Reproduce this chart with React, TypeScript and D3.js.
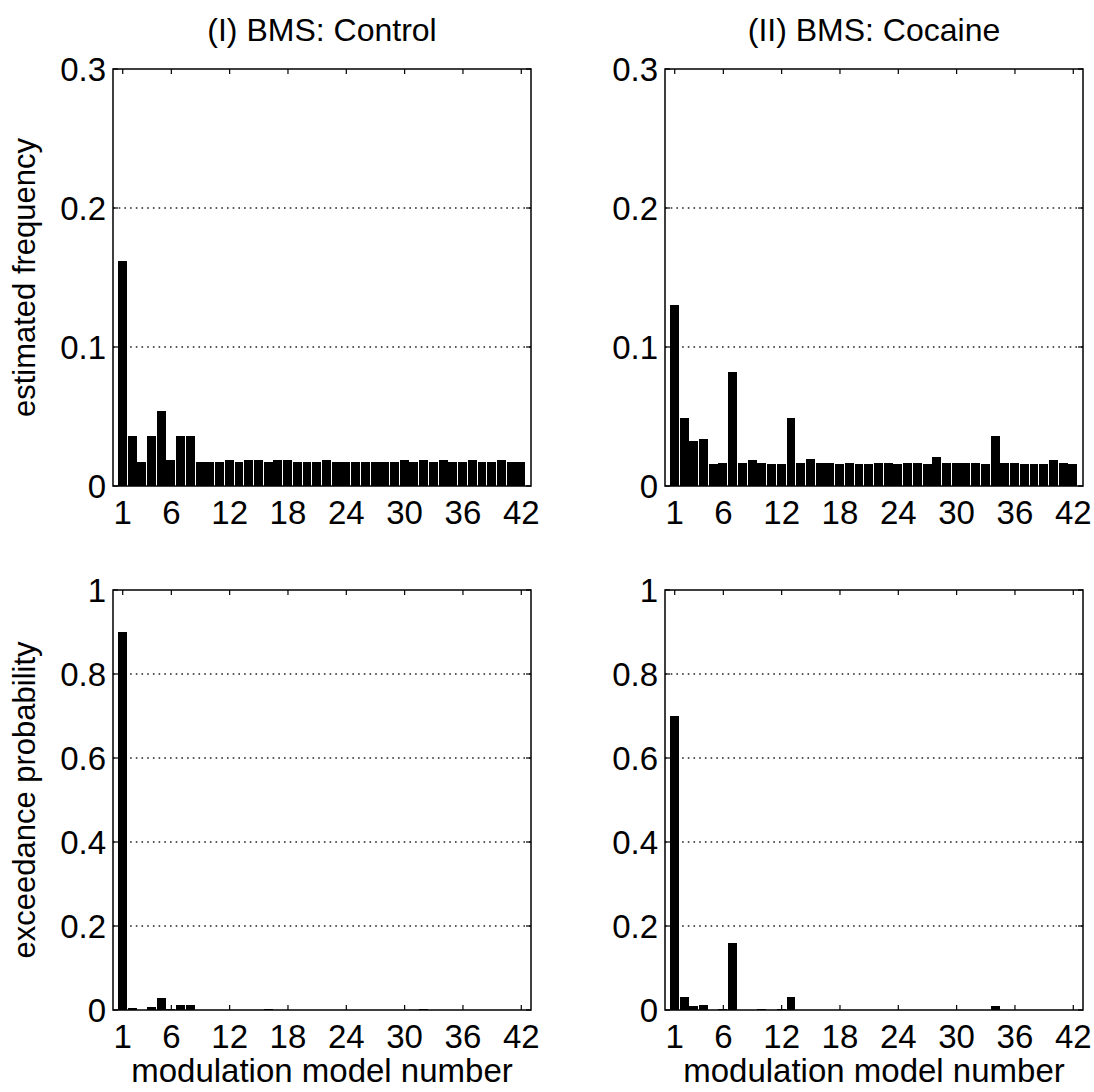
import React from 'react'
import * as d3 from 'd3'

// estimated model frequencies, models 1..42
const controlFreq = [
  0.162, 0.036, 0.0175, 0.036, 0.054, 0.019, 0.036, 0.036, 0.0175, 0.0175,
  0.0175, 0.0185, 0.0175, 0.0185, 0.0185, 0.0175, 0.0185, 0.0185, 0.0175, 0.0175,
  0.0175, 0.0185, 0.0175, 0.0175, 0.0175, 0.0175, 0.0175, 0.0175, 0.0175, 0.0185,
  0.0175, 0.0185, 0.0175, 0.0185, 0.0175, 0.0175, 0.0185, 0.0175, 0.0175, 0.0185,
  0.0175, 0.0175,
]
const cocaineFreq = [
  0.13, 0.0487, 0.0324, 0.0336, 0.0158, 0.0168, 0.0818, 0.0168, 0.0187, 0.0168,
  0.0158, 0.0158, 0.0487, 0.0168, 0.0197, 0.0168, 0.0168, 0.0158, 0.0168, 0.0158,
  0.0158, 0.0168, 0.0168, 0.0158, 0.0168, 0.0168, 0.0158, 0.0206, 0.0168, 0.0168,
  0.0168, 0.0168, 0.0158, 0.0362, 0.0168, 0.0168, 0.0158, 0.0158, 0.0158, 0.0187,
  0.0168, 0.0158,
]

// exceedance probabilities
const controlExc = [
  0.9, 0.004, 0.001, 0.006, 0.028, 0.002, 0.011, 0.011, 0.001, 0.001,
  0.001, 0.001, 0.001, 0.001, 0.001, 0.003, 0.001, 0.001, 0.001, 0.001,
  0.001, 0.001, 0.001, 0.001, 0.001, 0.001, 0.001, 0.001, 0.001, 0.001,
  0.001, 0.003, 0.001, 0.001, 0.001, 0.001, 0.001, 0.001, 0.001, 0.001,
  0.001, 0.001,
]
const cocaineExc = [
  0.7, 0.031, 0.009, 0.012, 0.001, 0.002, 0.159, 0.001, 0.001, 0.002,
  0.001, 0.002, 0.031, 0.001, 0.001, 0.001, 0.001, 0.001, 0.001, 0.001,
  0.001, 0.001, 0.001, 0.001, 0.001, 0.001, 0.001, 0.001, 0.001, 0.001,
  0.001, 0.001, 0.001, 0.01, 0.001, 0.001, 0.001, 0.001, 0.001, 0.001,
  0.001, 0.001,
]

const xTicks = [1, 6, 12, 18, 24, 30, 36, 42]
const freqTicks = [0, 0.1, 0.2, 0.3]
const excTicks = [0, 0.2, 0.4, 0.6, 0.8, 1]

const titles = ['(I) BMS: Control', '(II) BMS: Cocaine']
const FONT = '"Liberation Sans", Arial, sans-serif'

const W = 1094
const H = 1092
const cols = [[113, 531], [665, 1083]]
const rows = [[69, 486], [590, 1010]]

function Panel({ values, xr, yr, yMax, yTicks, fmt, ylabel, xlabel }) {
  const x = d3.scaleLinear().domain([0, 43]).range(xr)
  const y = d3.scaleLinear().domain([0, yMax]).range([yr[1], yr[0]])
  const step = x(1) - x(0)
  const tick = 5

  return (
    <g>
      {/* dotted grid */}
      {yTicks.filter(t => t > 0 && t < yMax).map(t => (
        <line key={'g' + t} x1={xr[0]} x2={xr[1]} y1={y(t)} y2={y(t)}
          stroke="#222" strokeWidth={1.6} strokeDasharray="1.6,4.1" />
      ))}

      {/* bars */}
      {values.map((v, i) => (
        <rect key={i} x={x(i + 1) - step / 2} width={step - 0.8}
          y={y(v)} height={y(0) - y(v)} fill="#000" shapeRendering="crispEdges" />
      ))}

      {/* box */}
      <rect x={xr[0]} y={yr[0]} width={xr[1] - xr[0]} height={yr[1] - yr[0]}
        fill="none" stroke="#000" strokeWidth={1.5} />

      {/* ticks */}
      {xTicks.map(t => (
        <g key={'x' + t}>
          <line x1={x(t)} x2={x(t)} y1={yr[1]} y2={yr[1] - tick} stroke="#000" strokeWidth={1.2} />
          <line x1={x(t)} x2={x(t)} y1={yr[0]} y2={yr[0] + tick} stroke="#000" strokeWidth={1.2} />
          <text x={x(t)} y={yr[1] + 38} textAnchor="middle" fontSize={33} fontFamily={FONT}>{t}</text>
        </g>
      ))}
      {yTicks.map(t => (
        <g key={'y' + t}>
          <line x1={xr[0]} x2={xr[0] + tick} y1={y(t)} y2={y(t)} stroke="#000" strokeWidth={1.2} />
          <line x1={xr[1]} x2={xr[1] - tick} y1={y(t)} y2={y(t)} stroke="#000" strokeWidth={1.2} />
          <text x={xr[0] - 7} y={y(t) + 12} textAnchor="end" fontSize={33} fontFamily={FONT}>{fmt(t)}</text>
        </g>
      ))}

      {ylabel && (
        <text transform={`translate(24,${(yr[0] + yr[1]) / 2}) rotate(-90)`} dy="0.35em"
          textAnchor="middle" fontSize={31} fontFamily={FONT}>{ylabel}</text>
      )}
      {xlabel && (
        <text x={(xr[0] + xr[1]) / 2} y={yr[1] + 72} textAnchor="middle"
          fontSize={33} fontFamily={FONT}>{xlabel}</text>
      )}
    </g>
  )
}

export default function App() {
  const fmtFreq = t => (t === 0 ? '0' : d3.format('.1f')(t))
  const fmtExc = t => (t === 0 || t === 1 ? String(t) : d3.format('.1f')(t))

  return (
    <svg width={W} height={H} viewBox={`0 0 ${W} ${H}`}
      style={{ position: 'absolute', left: 0, top: 0, background: '#fff' }}>
      <rect width={W} height={H} fill="#fff" />
      {titles.map((t, i) => (
        <text key={t} x={(cols[i][0] + cols[i][1]) / 2} y={41} textAnchor="middle"
          fontSize={32} fontFamily={FONT}>{t}</text>
      ))}
      <Panel values={controlFreq} xr={cols[0]} yr={rows[0]} yMax={0.3} yTicks={freqTicks}
        fmt={fmtFreq} ylabel="estimated frequency" />
      <Panel values={cocaineFreq} xr={cols[1]} yr={rows[0]} yMax={0.3} yTicks={freqTicks}
        fmt={fmtFreq} />
      <Panel values={controlExc} xr={cols[0]} yr={rows[1]} yMax={1} yTicks={excTicks}
        fmt={fmtExc} ylabel="exceedance probability" xlabel="modulation model number" />
      <Panel values={cocaineExc} xr={cols[1]} yr={rows[1]} yMax={1} yTicks={excTicks}
        fmt={fmtExc} xlabel="modulation model number" />
    </svg>
  )
}
